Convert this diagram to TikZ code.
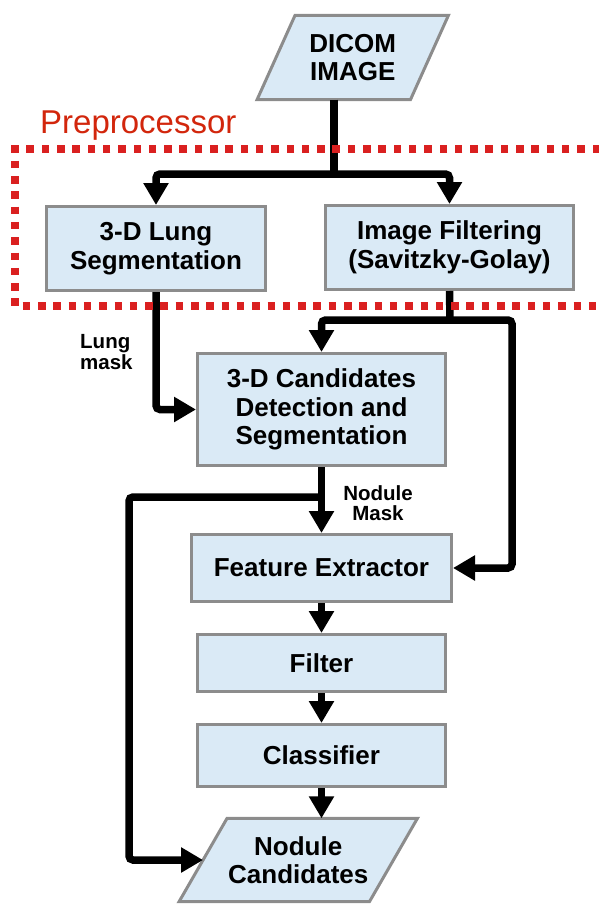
\documentclass[tikz,border=0pt]{standalone}
\usepackage{fontspec}
\setmainfont{Liberation Sans}
\usetikzlibrary{arrows.meta,backgrounds}

\definecolor{boxfill}{RGB}{218,234,246}
\definecolor{boxedge}{RGB}{140,140,140}
\definecolor{groupred}{RGB}{218,32,32}
\definecolor{grouptext}{RGB}{210,38,12}

\newcommand\boxfont{\fontsize{26}{28.5}\selectfont\bfseries}
\newcommand\lblfont{\fontsize{20.5}{20.5}\selectfont\bfseries}

\tikzset{
  stage/.style={rectangle, draw=boxedge, line width=3pt, fill=boxfill,
    align=center, font=\boxfont, inner sep=0pt},
  io/.style={rectangle, draw=none, align=center, font=\boxfont, inner sep=0pt},
  ioshape/.style={draw=boxedge, line width=3pt, fill=boxfill},
  wire/.style={line width=7.5pt, rounded corners=4pt},
  conn/.style={wire, -{Triangle[width=24pt,length=22pt]}},
  lbl/.style={font=\lblfont, inner sep=0pt},
  groupline/.style={draw=groupred, line width=7.5pt, dash pattern=on 7.5pt off 7.8pt},
}

\begin{document}
\begin{tikzpicture}[x=1pt,y=-1pt]
\useasboundingbox (0,0) rectangle (598,905);

% input / output parallelograms (text nodes, outline drawn behind)
\node[io, minimum width=153pt, minimum height=84pt] (dicom) at (352.75,57.5) {DICOM\\IMAGE};
\node[io, minimum width=190pt, minimum height=83pt] (nc) at (298.25,860) {Nodule\\Candidates};
\begin{scope}[on background layer]
  \draw[ioshape] ([xshift=19pt]dicom.north west) -- ([xshift=19pt]dicom.north east)
    -- ([xshift=-19pt]dicom.south east) -- ([xshift=-19pt]dicom.south west) -- cycle;
  \draw[ioshape] ([xshift=24pt]nc.north west) -- ([xshift=24pt]nc.north east)
    -- ([xshift=-24pt]nc.south east) -- ([xshift=-24pt]nc.south west) -- cycle;
\end{scope}

% processing stages
\node[stage, minimum width=219pt, minimum height=84pt] (lung) at (156,248.5) {3-D Lung\\Segmentation};
\node[stage, minimum width=248pt, minimum height=84pt] (filt) at (449.5,247.5) {Image Filtering\\(Savitzky-Golay)};
\node[stage, minimum width=248pt, minimum height=112pt] (cand) at (321.5,409.5) {3-D Candidates\\Detection and\\Segmentation};
\node[stage, minimum width=260pt, minimum height=67pt] (feat) at (321.5,568) {Feature Extractor};
\node[stage, minimum width=248pt, minimum height=57pt] (flt) at (321.5,663) {Filter};
\node[stage, minimum width=248pt, minimum height=62pt] (cls) at (321.5,755.5) {Classifier};

% branch points
\coordinate (fork1) at (334,174);
\coordinate (fork2) at (450,320);
\coordinate (rbend) at (512,320);
\coordinate (fork3) at (321.5,497);
\coordinate (lbend) at (129,497);

% connectors
\draw[wire] (dicom.south -| fork1) -- (fork1);
\draw[conn] (fork1) -| (lung.north);
\draw[conn] (fork1) -| (filt.north);
\draw[conn] (lung.south) |- (cand.west);
\draw[wire] (filt.south) -- (fork2);
\draw[conn] (fork2) -| (cand.north);
\draw[conn] (fork2) -- (rbend) |- (feat.east);
\draw[conn] (cand.south) -- (feat.north);
\draw[conn] (fork3) -- (lbend) |- (nc.west);
\draw[conn] (feat.south) -- (flt.north);
\draw[conn] (flt.south) -- (cls.north);
\draw[conn] (cls.south) -- (cls.south |- nc.north);

% connector labels
\node[lbl, anchor=west, align=left] (lmask) at (80,352) {Lung\\mask};
\node[lbl, align=center] (nmask) at (378,503) {Nodule\\Mask};

% preprocessor group
\draw[groupline] (600,149) -- (15,149) -- (15,306) -- (600,306);
\node[anchor=base west, inner sep=0pt, text=grouptext,
  font=\fontsize{33}{33}\selectfont] (pre) at (40,133) {Preprocessor};
\end{tikzpicture}
\end{document}
